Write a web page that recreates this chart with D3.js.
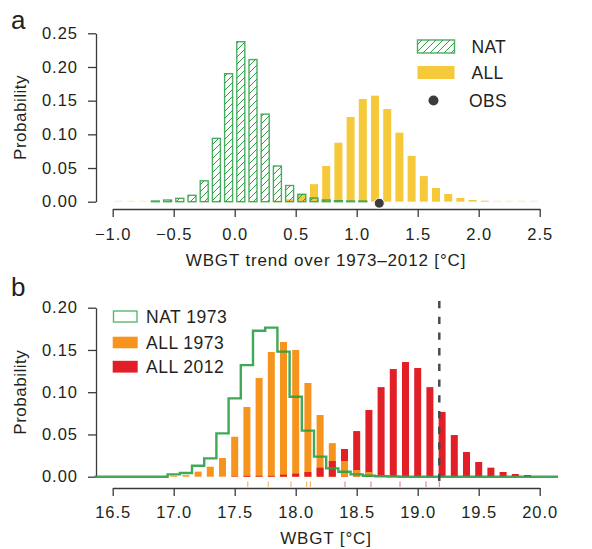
<!DOCTYPE html>
<html>
<head>
<meta charset="utf-8">
<script src="https://cdn.jsdelivr.net/npm/d3@7"></script>
<style>
  body { margin: 0; background: #fff; }
  svg { font-family: "Liberation Sans", Arial, Helvetica, sans-serif; }
  .axis path, .axis line { stroke: #3a3a3a; stroke-width: 1.3; }
  .axis text { fill: #231f20; font-size: 16.5px; letter-spacing: 1px; }
</style>
</head>
<body>
<script>
// panel a: distribution of WBGT trends (bins of 0.1 degC)
var trendBins = [-0.95, -0.85, -0.75, -0.65, -0.55, -0.45, -0.35, -0.25, -0.15, -0.05,
                 0.05, 0.15, 0.25, 0.35, 0.45, 0.55, 0.65, 0.75, 0.85, 0.95,
                 1.05, 1.15, 1.25, 1.35, 1.45, 1.55, 1.65, 1.75, 1.85, 1.95,
                 2.05, 2.15, 2.25, 2.35, 2.45];
var natTrend = [0, 0, 0, 0.001, 0.0025, 0.005, 0.0095, 0.031, 0.094, 0.19,
                0.2375, 0.211, 0.130, 0.053, 0.024, 0.011, 0.0055, 0.0025, 0.0015, 0.001,
                0.001, 0, 0, 0, 0, 0, 0, 0, 0, 0,
                0, 0, 0, 0, 0];
var allTrend = [0, 0, 0, 0, 0, 0, 0, 0, 0, 0,
                0, 0, 0, 0.001, 0.0035, 0.011, 0.026, 0.053, 0.0876, 0.1257,
                0.1525, 0.1574, 0.1376, 0.1025, 0.068, 0.038, 0.0204, 0.0115, 0.0055, 0.0025,
                0.001, 0, 0, 0, 0];
var obsTrend = 1.185;
var trendTicks = [-1.0, -0.5, 0.0, 0.5, 1.0, 1.5, 2.0, 2.5];
var probTicksA = [0, 0.05, 0.10, 0.15, 0.20, 0.25];

// panel b: distribution of WBGT values (bins of 0.1 degC)
var wbgtBins = [16.4, 16.5, 16.6, 16.7, 16.8, 16.9, 17.0, 17.1, 17.2, 17.3,
                17.4, 17.5, 17.6, 17.7, 17.8, 17.9, 18.0, 18.1, 18.2, 18.3,
                18.4, 18.5, 18.6, 18.7, 18.8, 18.9, 19.0, 19.1, 19.2, 19.3,
                19.4, 19.5, 19.6, 19.7, 19.8, 19.9, 20.0, 20.1];
var nat1973 = [0, 0, 0, 0, 0, 0, 0.0028, 0.0044, 0.013, 0.0217,
               0.0513, 0.0927, 0.132, 0.1728, 0.1764, 0.148, 0.0947, 0.0545, 0.0237, 0.0099,
               0.0059, 0.0028, 0.0012, 0.0006, 0.0003, 0, 0, 0, 0, 0,
               0, 0, 0, 0, 0, 0, 0, 0];
var all1973 = [0, 0, 0, 0, 0, 0, 0.001, 0.0018, 0.006, 0.0118,
               0.0221, 0.0473, 0.0825, 0.1168, 0.1476, 0.1594, 0.15, 0.1109, 0.073, 0.0397,
               0.0186, 0.0079, 0.0056, 0.002, 0.001, 0, 0, 0, 0, 0,
               0, 0, 0, 0, 0, 0, 0, 0];
var all2012 = [0, 0, 0, 0, 0, 0, 0, 0, 0, 0,
               0, 0.0005, 0.001, 0.001, 0.001, 0.0024, 0.0036, 0.0055, 0.0107, 0.0186,
               0.0328, 0.054, 0.079, 0.106, 0.1274, 0.1357, 0.1286, 0.106, 0.0766, 0.0493,
               0.0292, 0.0174, 0.0107, 0.0056, 0.0032, 0.002, 0, 0];
var rug1973 = [17.607, 17.775, 17.961, 18.09, 18.12];
var rug2012 = [18.404, 18.617, 18.855, 19.068, 19.177];
var obsWbgt = 19.177;
var wbgtTicks = [16.5, 17.0, 17.5, 18.0, 18.5, 19.0, 19.5, 20.0];
var probTicksB = [0, 0.05, 0.10, 0.15, 0.20];

var cGreen = "#2c9f45", cYellow = "#f6c93a", cOrange = "#f7941d", cRed = "#e21f26",
    cText = "#231f20", cObs = "#3d3b3c";

var svg = d3.select("body").append("svg")
    .attr("width", 592)
    .attr("height", 549);

// hatch for NAT bars
var pat = svg.append("defs").append("pattern")
    .attr("id", "hatch")
    .attr("patternUnits", "userSpaceOnUse")
    .attr("width", 7)
    .attr("height", 7);
pat.append("path")
    .attr("d", "M-1,1 l2,-2 M0,7 l7,-7 M6,8 l2,-2")
    .attr("stroke", cGreen)
    .attr("stroke-width", 1);

function label(x, y, txt, size, spacing) {
    return svg.append("text").attr("x", x).attr("y", y)
        .attr("font-size", size).attr("letter-spacing", spacing)
        .attr("fill", cText).text(txt);
}

// ---------- panel a ----------
var xA = d3.scaleLinear().domain([-1, 2.5]).range([112.7, 539.7]);
var yA = d3.scaleLinear().domain([0, 0.25]).range([201.7, 33.3]);
var bwA = 8;

svg.append("g").attr("class", "axis")
    .attr("transform", "translate(96,0)")
    .call(d3.axisLeft(yA).tickValues(probTicksA).tickFormat(d3.format(".2f"))
          .tickSize(8).tickSizeOuter(0).tickPadding(10));

svg.append("g").attr("class", "axis")
    .attr("transform", "translate(0,209)")
    .call(d3.axisBottom(xA).tickValues(trendTicks).tickFormat(d3.format(".1f"))
          .tickSize(8).tickSizeOuter(0).tickPadding(11));

svg.append("g").selectAll("rect")
    .data(trendBins)
    .enter().append("rect")
    .attr("x", function(d) { return xA(d) - bwA / 2; })
    .attr("width", bwA)
    .attr("y", function(d, i) { return Math.min(yA(allTrend[i]), yA(0) - 1); })
    .attr("height", function(d, i) { return Math.max(yA(0) - yA(allTrend[i]), 1); })
    .attr("fill", cYellow)
    .attr("opacity", function(d, i) { return allTrend[i] > 0 ? 1 : 0.35; });

svg.append("g").selectAll("rect")
    .data(trendBins.filter(function(d, i) { return natTrend[i] > 0; }))
    .enter().append("rect")
    .attr("x", function(d) { return xA(d) - bwA / 2; })
    .attr("width", bwA)
    .attr("y", function(d) { return yA(natTrend[trendBins.indexOf(d)]); })
    .attr("height", function(d) { return yA(0) - yA(natTrend[trendBins.indexOf(d)]); })
    .attr("fill", "url(#hatch)")
    .attr("stroke", cGreen)
    .attr("stroke-opacity", 0.85)
    .attr("stroke-width", 1.4);

svg.append("circle")
    .attr("cx", xA(obsTrend))
    .attr("cy", yA(0) + 1.5)
    .attr("r", 5)
    .attr("fill", cObs)
    .attr("stroke", "#fff")
    .attr("stroke-width", 1);

// legend a
svg.append("rect").attr("x", 417.5).attr("y", 40).attr("width", 37).attr("height", 13)
    .attr("fill", "url(#hatch)").attr("stroke", cGreen).attr("stroke-width", 1.4).attr("stroke-opacity", 0.85);
svg.append("rect").attr("x", 417.5).attr("y", 66).attr("width", 37).attr("height", 13)
    .attr("fill", cYellow);
svg.append("circle").attr("cx", 433.5).attr("cy", 100.5).attr("r", 5).attr("fill", cObs);
[["NAT", 46.5], ["ALL", 72.5], ["OBS", 100.5]].forEach(function(l, i) {
    label(i == 2 ? 469 : 471.5, l[1], l[0], 17.5, 0.3).attr("dy", "0.36em");
});

label(326, 265.5, "WBGT trend over 1973\u20132012 [\u00b0C]", 17, 0.85).attr("text-anchor", "middle");
svg.append("text").attr("transform", "translate(26,117.5) rotate(-90)")
    .attr("text-anchor", "middle").attr("font-size", 17).attr("letter-spacing", 0.5)
    .attr("fill", cText).text("Probability");
label(11, 28.5, "a", 26, 0);

// ---------- panel b ----------
var xB = d3.scaleLinear().domain([16.5, 20]).range([112.7, 539.7]);
var yB = d3.scaleLinear().domain([0, 0.2]).range([476.7, 307.7]);
var bwB = 7;

svg.append("g").attr("class", "axis")
    .attr("transform", "translate(96,0)")
    .call(d3.axisLeft(yB).tickValues(probTicksB).tickFormat(d3.format(".2f"))
          .tickSize(8).tickSizeOuter(0).tickPadding(10));

svg.append("g").attr("class", "axis")
    .attr("transform", "translate(0,488)")
    .call(d3.axisBottom(xB).tickValues(wbgtTicks).tickFormat(d3.format(".1f"))
          .tickSize(8).tickSizeOuter(0).tickPadding(10.5));

// the smaller of the two bars sits in front
var barsB = [];
wbgtBins.forEach(function(b, i) {
    var pair = [{x: b, v: all1973[i], c: cOrange}, {x: b, v: all2012[i], c: cRed}]
        .filter(function(p) { return p.v > 0; })
        .sort(function(p, q) { return q.v - p.v; });
    barsB = barsB.concat(pair);
});
svg.append("g").selectAll("rect")
    .data(barsB)
    .enter().append("rect")
    .attr("x", function(d) { return xB(d.x) - bwB / 2; })
    .attr("width", bwB)
    .attr("y", function(d) { return yB(d.v); })
    .attr("height", function(d) { return yB(0) - yB(d.v); })
    .attr("fill", function(d) { return d.c; });

// NAT 1973 as a step outline
var stepPts = wbgtBins.map(function(b, i) { return [b - 0.05, nat1973[i]]; });
stepPts.push([wbgtBins[wbgtBins.length - 1] + 0.05, nat1973[nat1973.length - 1]]);
svg.append("path")
    .datum(stepPts)
    .attr("d", d3.line().curve(d3.curveStepAfter)
        .x(function(d) { return xB(d[0]); })
        .y(function(d) { return yB(d[1]); }))
    .attr("fill", "none")
    .attr("stroke", cGreen)
    .attr("stroke-width", 2.4)
    .attr("stroke-opacity", 0.9);

// rug marks
svg.append("g").selectAll("line")
    .data(rug1973)
    .enter().append("line")
    .attr("x1", function(d) { return xB(d); }).attr("x2", function(d) { return xB(d); })
    .attr("y1", 481.5).attr("y2", 487)
    .attr("stroke", "#f9b56a").attr("stroke-width", 1.2);
svg.append("g").selectAll("line")
    .data(rug2012)
    .enter().append("line")
    .attr("x1", function(d) { return xB(d); }).attr("x2", function(d) { return xB(d); })
    .attr("y1", 481.5).attr("y2", 487)
    .attr("stroke", "#ee8a8e").attr("stroke-width", 1.2);

svg.append("line")
    .attr("x1", xB(obsWbgt)).attr("x2", xB(obsWbgt))
    .attr("y1", 301).attr("y2", 486)
    .attr("stroke", "#4a4a4a").attr("stroke-width", 2.5)
    .attr("stroke-dasharray", "7.3,8.4");

// legend b
svg.append("rect").attr("x", 113.5).attr("y", 311).attr("width", 23.5).attr("height", 11)
    .attr("fill", "#fff").attr("stroke", "#5cb86c").attr("stroke-width", 1.4);
svg.append("rect").attr("x", 112.7).attr("y", 336.7).attr("width", 25).attr("height", 11.6)
    .attr("fill", cOrange);
svg.append("rect").attr("x", 112.7).attr("y", 360.8).attr("width", 25).attr("height", 11.8)
    .attr("fill", cRed);
[["NAT 1973", 316.5], ["ALL 1973", 342.5], ["ALL 2012", 366.7]].forEach(function(l) {
    label(146, l[1], l[0], 17.5, 0.5).attr("dy", "0.36em");
});

label(326, 544, "WBGT [\u00b0C]", 17, 0.85).attr("text-anchor", "middle");
svg.append("text").attr("transform", "translate(26,392.2) rotate(-90)")
    .attr("text-anchor", "middle").attr("font-size", 17).attr("letter-spacing", 0.5)
    .attr("fill", cText).text("Probability");
label(11, 296, "b", 26, 0);
</script>
</body>
</html>
